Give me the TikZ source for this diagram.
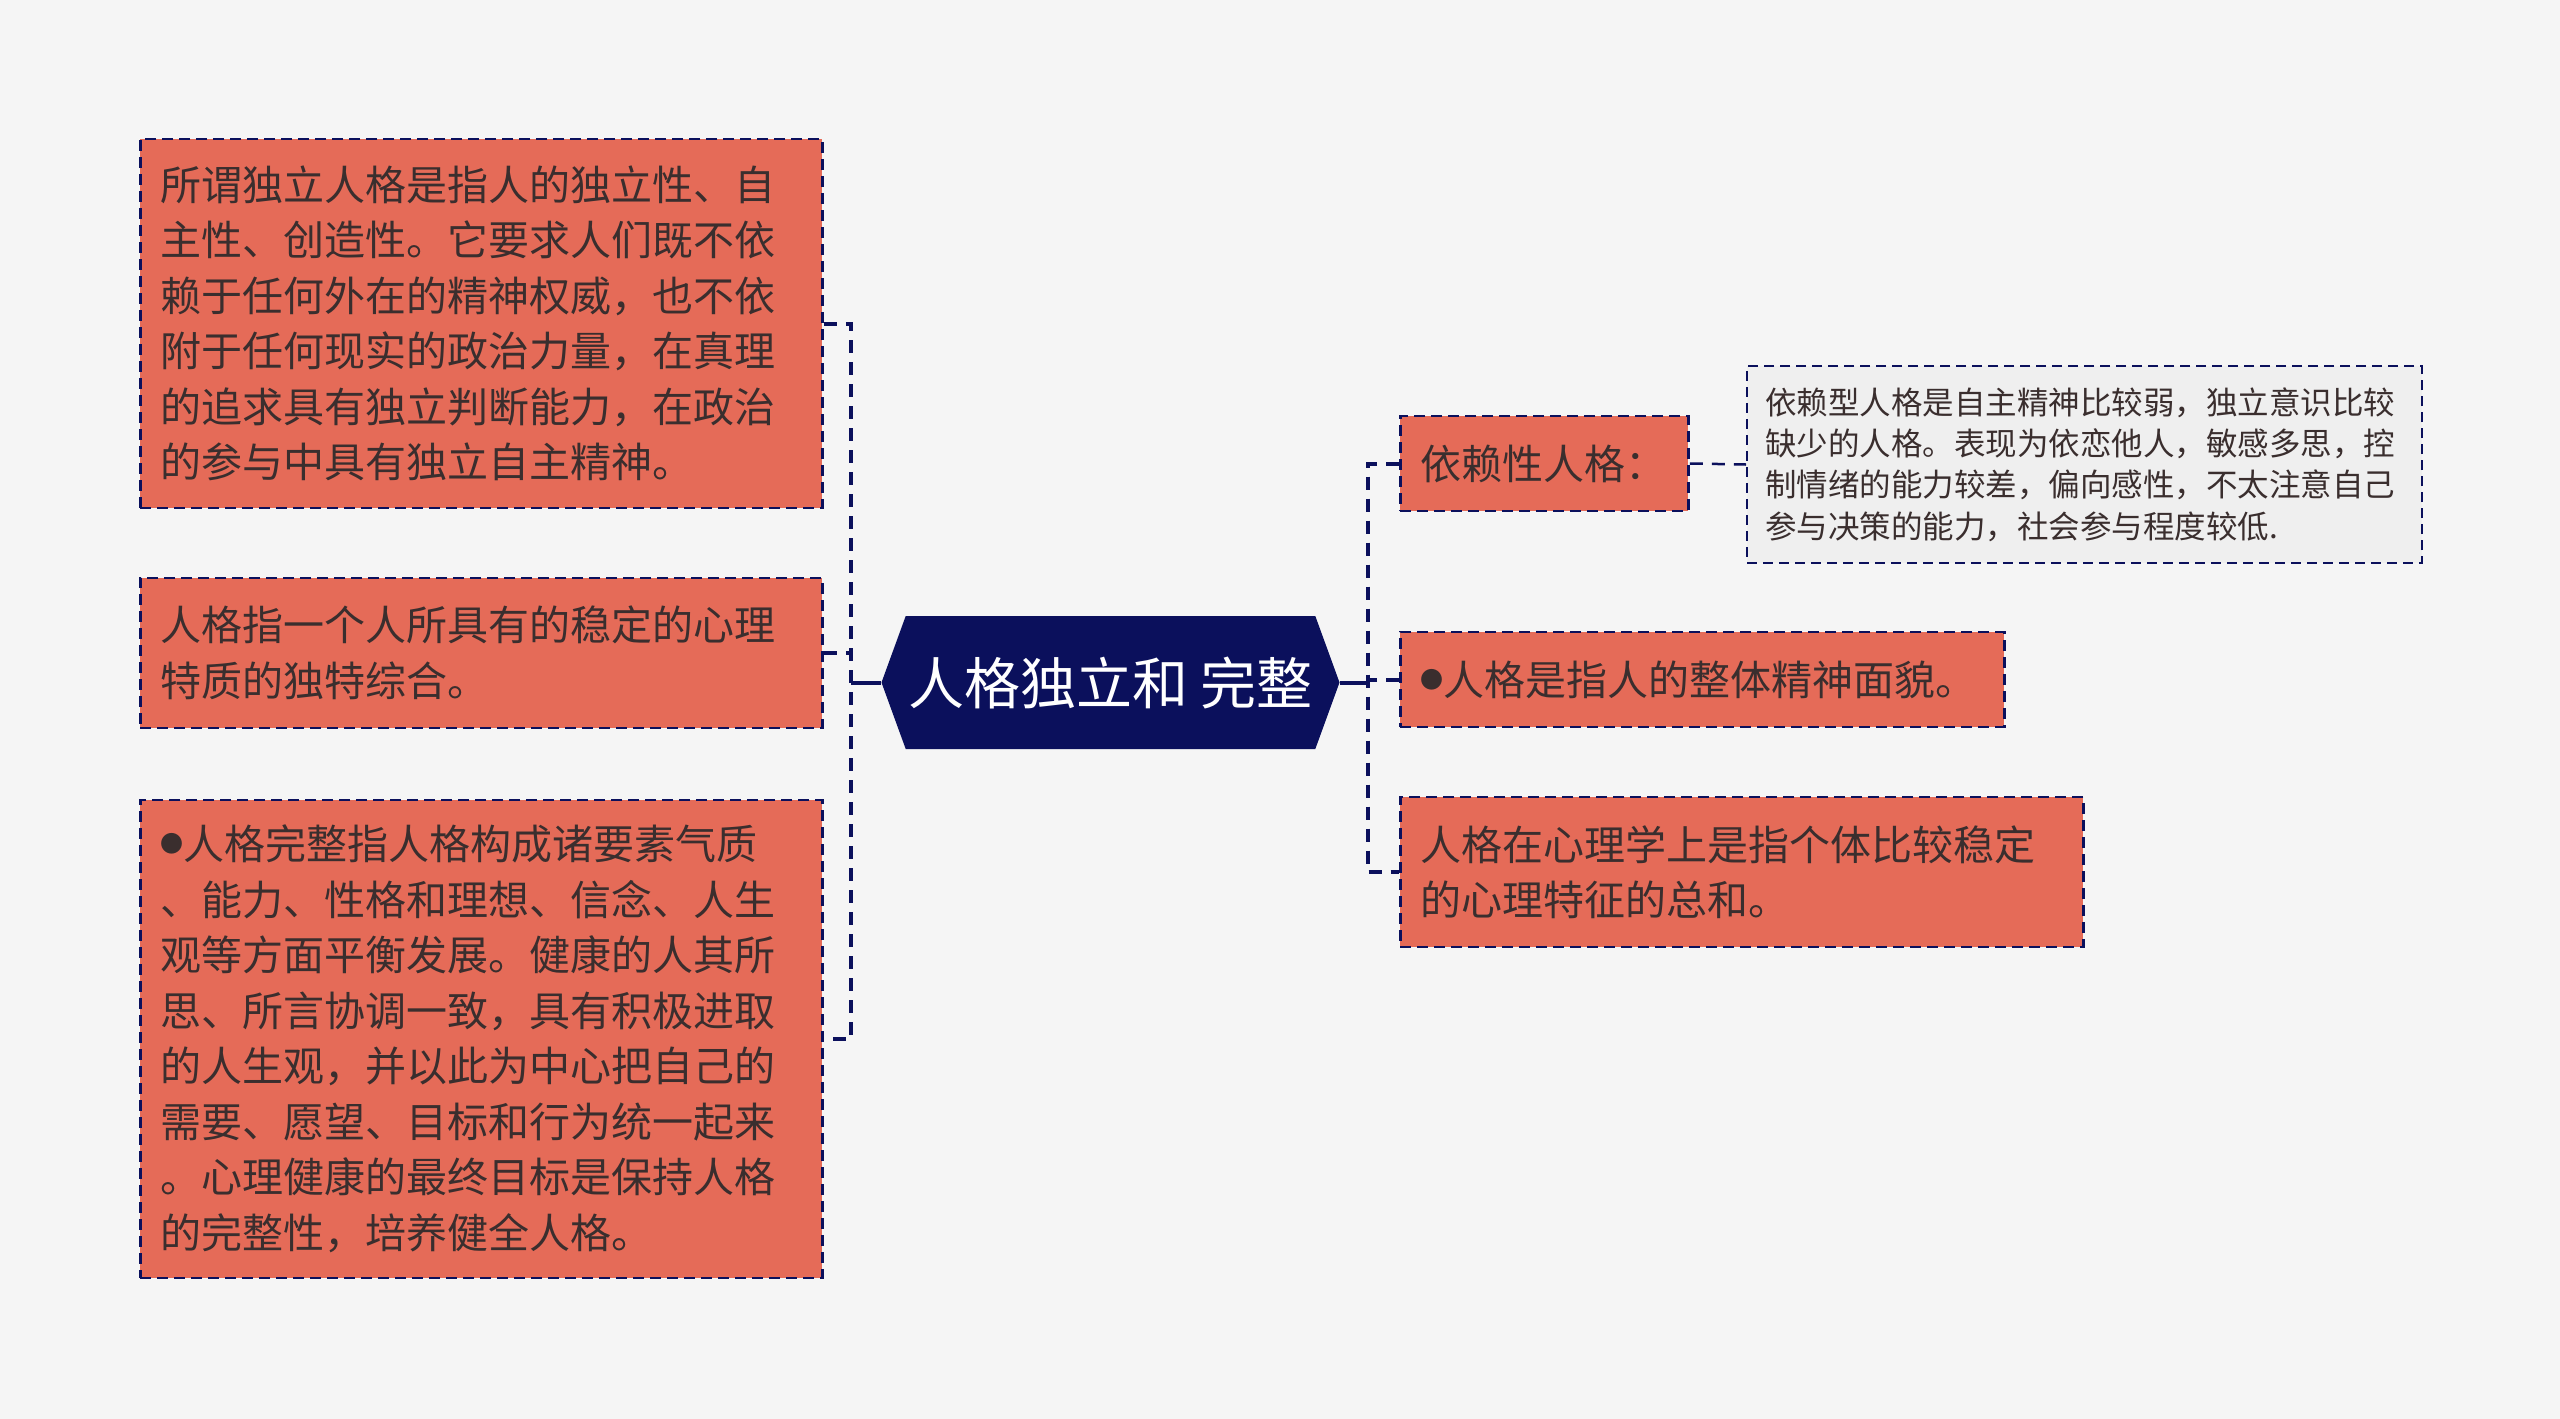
\documentclass[tikz,border=0pt]{standalone}
\usepackage{fontspec}
\setmainfont{Noto Sans CJK SC}
\usetikzlibrary{shapes.symbols}
\definecolor{boxred}{RGB}{229,107,88}
\definecolor{navy}{RGB}{11,16,92}
\definecolor{inktext}{RGB}{58,46,46}
\definecolor{paper}{RGB}{245,245,245}
\definecolor{notegray}{RGB}{239,239,239}
\newcommand{\dotmark}{\raisebox{7pt}{\fontsize{23}{0}\selectfont ●}}

\begin{document}
\begin{tikzpicture}[x=1pt,y=-1pt,
	leaf/.style={rectangle,fill=boxred,draw=navy,line width=2.8pt,dash pattern=on 11pt off 6pt,
	inner xsep=20pt,inner ysep=0pt,anchor=west,align=left,text=inktext,
	font=\fontsize{41}{55.5}\selectfont},
	note/.style={rectangle,fill=notegray,draw=navy,line width=2.4pt,dash pattern=on 10pt off 6pt,
	inner xsep=18pt,inner ysep=0pt,anchor=west,align=left,text=inktext,
	font=\fontsize{31.5}{41.3}\selectfont},
	branch/.style={draw=navy,line width=4pt,dash pattern=on 13pt off 9pt},
	hub/.style={signal,signal to=east and west,signal pointer angle=140,fill=navy,
	text=white,minimum width=458pt,minimum height=133pt,inner sep=0pt,
	font=\fontsize{56}{60}\selectfont}]
\fill[paper] (0,0) rectangle (2560,1419);
\node[hub] (hub) at (1110.5,682.5) {人格独立和 完整};
\node[leaf,text width=642pt,minimum height=369pt] (lone) at (139,323.5)
{所谓独立人格是指人的独立性、自\\主性、创造性。它要求人们既不依\\赖于任何外在的精神权威，也不依\\附于任何现实的政治力量，在真理\\的追求具有独立判断能力，在政治\\的参与中具有独立自主精神。};
\node[leaf,text width=642pt,minimum height=150pt] (ltwo) at (139,653)
{人格指一个人所具有的稳定的心理\\特质的独特综合。};
\node[leaf,text width=642pt,minimum height=478pt] (lthree) at (139,1039)
{\dotmark 人格完整指人格构成诸要素气质\\、能力、性格和理想、信念、人生\\观等方面平衡发展。健康的人其所\\思、所言协调一致，具有积极进取\\的人生观，并以此为中心把自己的\\需要、愿望、目标和行为统一起来\\。心理健康的最终目标是保持人格\\的完整性，培养健全人格。};
\node[leaf,text width=248pt,minimum height=95pt] (rone) at (1399,463.5) {依赖性人格：};
\node[note,text width=639pt,minimum height=197pt] (rnote) at (1746,464.5)
{依赖型人格是自主精神比较弱，独立意识比较\\缺少的人格。表现为依恋他人，敏感多思，控\\制情绪的能力较差，偏向感性，不太注意自己\\参与决策的能力，社会参与程度较低.};
\node[leaf,text width=564pt,minimum height=95pt] (rtwo) at (1399,679.5) {\dotmark 人格是指人的整体精神面貌。};
\node[leaf,text width=643pt,minimum height=150pt] (rthree) at (1399,872)
{人格在心理学上是指个体比较稳定\\的心理特征的总和。};
\coordinate (lbar) at (851,682.5);
\coordinate (rbar) at (1368,682.5);
\draw[branch] (lone.east) -- (lone.east -| lbar) -- (lthree.east -| lbar) -- (lthree.east);
\draw[branch] (ltwo.east) -- (ltwo.east -| lbar);
\draw[navy,line width=4pt] (hub.west) -- (lbar);
\draw[branch] (rone.west) -- (rone.west -| rbar) -- (rthree.west -| rbar) -- (rthree.west);
\draw[branch] (rtwo.west) -- (rtwo.west -| rbar);
\draw[navy,line width=4pt] (hub.east) -- (rbar);
\draw[branch,line width=2.5pt] (rone.east) -- (rnote.west);
\end{tikzpicture}
\end{document}
